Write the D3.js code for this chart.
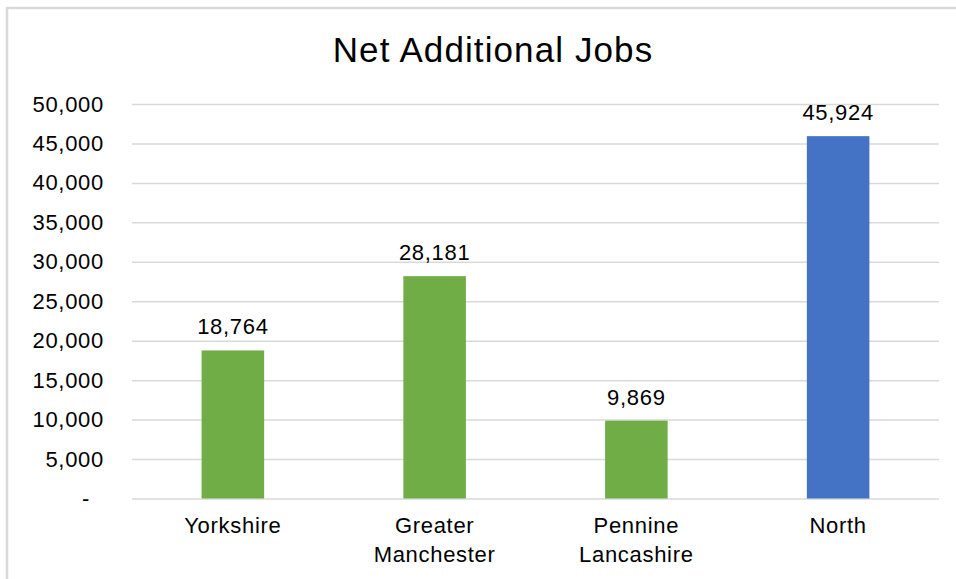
<!DOCTYPE html>
<html>
<head>
<meta charset="utf-8">
<script src="https://cdn.jsdelivr.net/npm/d3@7"></script>
<style>
  body { margin: 0; background: #fff; }
  text { font-family: "Liberation Sans", Arial, sans-serif; fill: #000; }
</style>
</head>
<body>
<div id="chart"></div>
<script>
// data
const regions = ["Yorkshire", "Greater Manchester", "Pennine Lancashire", "North"];
const regionLines = [["Yorkshire"], ["Greater", "Manchester"], ["Pennine", "Lancashire"], ["North"]];
const jobs = [18764, 28181, 9869, 45924];
const barColors = ["#70AD47", "#70AD47", "#70AD47", "#4472C4"];
const yTicks = [0, 5000, 10000, 15000, 20000, 25000, 30000, 35000, 40000, 45000, 50000];

const W = 956, H = 579;
const margin = { top: 104, right: 17, bottom: 80.5, left: 132 };
const width = W - margin.left - margin.right,
    height = H - margin.top - margin.bottom;

const svg = d3.select("#chart").append("svg")
    .attr("width", W)
    .attr("height", H);

// chart area border (top and left edges visible in the crop)
svg.append("path")
    .attr("d", `M7,${H} V8 H${W}`)
    .attr("fill", "none")
    .attr("stroke", "#d9d9d9")
    .attr("stroke-width", 2.5);

svg.append("text")
    .attr("x", 493)
    .attr("y", 62)
    .attr("text-anchor", "middle")
    .style("font-size", "35px")
    .style("letter-spacing", "1.1px")
    .text("Net Additional Jobs");

const g = svg.append("g")
    .attr("transform", `translate(${margin.left},${margin.top})`);

const x = d3.scaleBand()
    .domain(regions)
    .range([0, width])
    .paddingInner(0.69)
    .paddingOuter(0.345);

const y = d3.scaleLinear()
    .domain([0, 50000])
    .range([height, 0]);

const fmt = d3.format(",");

// gridlines + y labels
const yAxis = g.append("g")
    .call(d3.axisLeft(y)
        .tickValues(yTicks)
        .tickSize(-width)
        .tickPadding(28)
        .tickFormat(d => d === 0 ? "-" : fmt(d)));
yAxis.select(".domain").remove();
yAxis.selectAll(".tick line")
    .attr("stroke", "#d9d9d9")
    .attr("stroke-width", 1.5);
yAxis.selectAll(".tick text")
    .style("font-size", "22px")
    .style("letter-spacing", "0.7px")
    .attr("fill", "#000");
yAxis.selectAll(".tick text").filter(d => d === 0)
    .attr("dx", -14);

// bars
g.selectAll(".bar")
    .data(jobs)
    .enter().append("rect")
    .attr("class", "bar")
    .attr("x", (d, i) => x(regions[i]))
    .attr("y", d => y(d))
    .attr("width", x.bandwidth())
    .attr("height", d => height - y(d))
    .attr("fill", (d, i) => barColors[i]);

// value labels
g.selectAll(".val")
    .data(jobs)
    .enter().append("text")
    .attr("class", "val")
    .attr("x", (d, i) => x(regions[i]) + x.bandwidth() / 2)
    .attr("y", d => y(d) - 16)
    .attr("text-anchor", "middle")
    .style("font-size", "22px")
    .style("letter-spacing", "0.7px")
    .text(d => fmt(d));

// category labels
const cat = g.selectAll(".cat")
    .data(regionLines)
    .enter().append("text")
    .attr("class", "cat")
    .attr("x", (d, i) => x(regions[i]) + x.bandwidth() / 2)
    .attr("y", height + 34.5)
    .attr("text-anchor", "middle")
    .style("font-size", "22px")
    .style("letter-spacing", "0.7px");
cat.selectAll("tspan")
    .data(d => d)
    .enter().append("tspan")
    .attr("x", function () { return d3.select(this.parentNode).attr("x"); })
    .attr("dy", (d, i) => i === 0 ? 0 : 28.5)
    .text(d => d);
</script>
</body>
</html>
